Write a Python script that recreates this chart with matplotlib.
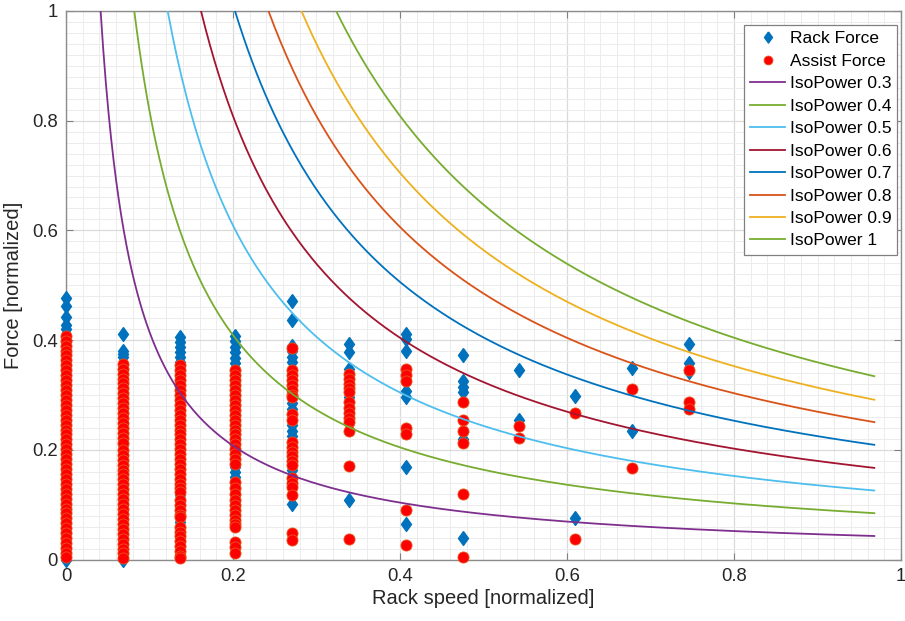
import numpy as np
import matplotlib.pyplot as plt
from matplotlib.ticker import MultipleLocator

plt.rcParams['font.family'] = ['Liberation Sans', 'DejaVu Sans']

# rack speed of each measurement column (normalized)
speed_cols = [0.0, 0.068, 0.136, 0.203, 0.271, 0.339, 0.407, 0.475, 0.542, 0.610, 0.678, 0.746]

# rack force per column (normalized)
rack_force = [
    [0.477, 0.462, 0.442, 0.428, 0.420, 0.40, 0.35, 0.30, 0.25, 0.20, 0.15, 0.10, 0.05, 0.0],
    [0.412, 0.381, 0.375, 0.369, 0.348, 0.30, 0.25, 0.208, 0.15, 0.10, 0.05, 0.0],
    [0.405, 0.396, 0.387, 0.378, 0.369, 0.360, 0.30, 0.20, 0.117, 0.069],
    [0.408, 0.398, 0.388, 0.378, 0.368, 0.358, 0.30, 0.169, 0.160, 0.150],
    [0.472, 0.437, 0.390, 0.380, 0.370, 0.360, 0.294, 0.285, 0.275, 0.245, 0.235, 0.225, 0.163, 0.150, 0.102],
    [0.393, 0.378, 0.348, 0.296, 0.108],
    [0.411, 0.402, 0.380, 0.308, 0.296, 0.168, 0.065],
    [0.372, 0.326, 0.315, 0.305, 0.220, 0.039],
    [0.346, 0.254],
    [0.298, 0.075],
    [0.349, 0.234],
    [0.393, 0.359, 0.342],
]

# assist force per column (normalized)
assist_force = [
    [0.408, 0.399, 0.390, 0.381, 0.372, 0.363, 0.354, 0.345, 0.336, 0.327, 0.318, 0.309,
     0.300, 0.291, 0.282, 0.273, 0.264, 0.255, 0.246, 0.237, 0.228, 0.219, 0.210, 0.201,
     0.192, 0.183, 0.174, 0.165, 0.156, 0.147, 0.138, 0.129, 0.120, 0.111, 0.102, 0.093,
     0.084, 0.075, 0.066, 0.057, 0.048, 0.039, 0.030, 0.021, 0.012, 0.004],
    [0.357, 0.348, 0.339, 0.330, 0.321, 0.312, 0.303, 0.294, 0.285, 0.276, 0.267, 0.258,
     0.249, 0.240, 0.231, 0.222, 0.213, 0.200, 0.191, 0.182, 0.173, 0.164, 0.155, 0.146,
     0.137, 0.128, 0.119, 0.110, 0.101, 0.092, 0.083, 0.074, 0.065, 0.056, 0.047, 0.038,
     0.029, 0.020, 0.011, 0.002],
    [0.354, 0.345, 0.336, 0.327, 0.318, 0.309, 0.300, 0.291, 0.282, 0.273, 0.264, 0.255,
     0.246, 0.237, 0.228, 0.219, 0.210, 0.201, 0.192, 0.183, 0.174, 0.165, 0.156, 0.147,
     0.138, 0.130, 0.123, 0.108, 0.099, 0.090, 0.082, 0.078, 0.060, 0.051, 0.042, 0.033,
     0.024, 0.015, 0.006, 0.002],
    [0.345, 0.336, 0.327, 0.318, 0.309, 0.300, 0.291, 0.282, 0.273, 0.264, 0.255, 0.246,
     0.237, 0.228, 0.219, 0.210, 0.201, 0.192, 0.183, 0.175, 0.141, 0.131, 0.120, 0.108,
     0.099, 0.090, 0.081, 0.072, 0.064, 0.060, 0.032, 0.022, 0.011],
    [0.385, 0.345, 0.336, 0.327, 0.318, 0.309, 0.300, 0.296, 0.266, 0.254, 0.214, 0.205,
     0.196, 0.188, 0.180, 0.172, 0.148, 0.139, 0.132, 0.117, 0.048, 0.035],
    [0.339, 0.330, 0.320, 0.312, 0.305, 0.287, 0.277, 0.267, 0.258, 0.250, 0.235, 0.170, 0.037],
    [0.348, 0.337, 0.326, 0.240, 0.229, 0.091, 0.026],
    [0.287, 0.255, 0.235, 0.212, 0.120, 0.005],
    [0.243, 0.222],
    [0.267, 0.037],
    [0.311, 0.167],
    [0.345, 0.288, 0.275],
]

# iso-power curves: force = k / speed
iso_labels = ['IsoPower 0.3', 'IsoPower 0.4', 'IsoPower 0.5', 'IsoPower 0.6',
              'IsoPower 0.7', 'IsoPower 0.8', 'IsoPower 0.9', 'IsoPower 1']
iso_k = [0.0415, 0.0818, 0.1218, 0.1617, 0.2024, 0.2425, 0.2820, 0.3235]
iso_colors = ['#7E2F8E', '#77AC30', '#4DBEEE', '#A2142F',
              '#0072BD', '#D95319', '#EDB120', '#77AC30']
speed_end = 0.968

# MATLAB-like diamond (a bit wider than matplotlib's thin 'd')
diamond = [(0, 1), (0.72, 0), (0, -1), (-0.72, 0), (0, 1)]

fig = plt.figure(figsize=(9.05, 6.21), dpi=100)
ax = fig.add_axes([0.0729, 0.099, 0.9227, 0.8833])

rx = np.concatenate([[s] * len(v) for s, v in zip(speed_cols, rack_force)])
ry = np.concatenate(rack_force)
ax.plot(rx, ry, linestyle='none', marker=diamond, color='#0072BD', ms=10,
        mec='#0072BD', label='Rack Force', zorder=3, clip_on=False)

axx = np.concatenate([[s] * len(v) for s, v in zip(speed_cols, assist_force)])
ay = np.concatenate(assist_force)
ax.plot(axx, ay, 'o', color='#FF0000', mfc='#FF0000', mec='#E8541E', mew=0.6, ms=8,
        label='Assist Force', zorder=4, clip_on=False)

for k, c, lab in zip(iso_k, iso_colors, iso_labels):
    xs = np.linspace(k, speed_end, 300)
    ax.plot(xs, k / xs, '-', color=c, lw=1.3, label=lab, zorder=5)

ax.set_xlim(0, 1)
ax.set_ylim(0, 1)
ticks = [0, 0.2, 0.4, 0.6, 0.8, 1]
tick_labels = ['0', '0.2', '0.4', '0.6', '0.8', '1']
ax.set_xticks(ticks)
ax.set_xticklabels(tick_labels)
ax.set_yticks(ticks)
ax.set_yticklabels(tick_labels)
ax.xaxis.set_minor_locator(MultipleLocator(0.02))
ax.yaxis.set_minor_locator(MultipleLocator(0.02))
ax.grid(True, which='major', color='#dadada', lw=0.9, zorder=0)
ax.grid(True, which='minor', color='#ececec', lw=0.7, zorder=0)
ax.set_axisbelow(True)
ax.tick_params(which='major', direction='in', length=5, width=0.8, color='#808080',
               top=True, right=True, labelsize=13.3, labelcolor='#262626', pad=6)
ax.tick_params(which='minor', length=0)
for sp in ax.spines.values():
    sp.set_color('#8c8c8c')
    sp.set_linewidth(1.0)

ax.set_xlabel('Rack speed [normalized]', fontsize=14.5, color='#262626', labelpad=3)
ax.set_ylabel('Force [normalized]', fontsize=14.5, color='#262626', labelpad=6)

leg = ax.legend(loc='upper right', bbox_to_anchor=(0.9955, 0.974), fontsize=12.5,
                frameon=True, fancybox=False, edgecolor='#808080', framealpha=1,
                handlelength=2.0, handletextpad=0.25, labelspacing=0.42,
                borderpad=0.35, borderaxespad=0, markerscale=0.8)
leg.get_frame().set_linewidth(0.9)

fig.savefig('out.png', dpi=100)
